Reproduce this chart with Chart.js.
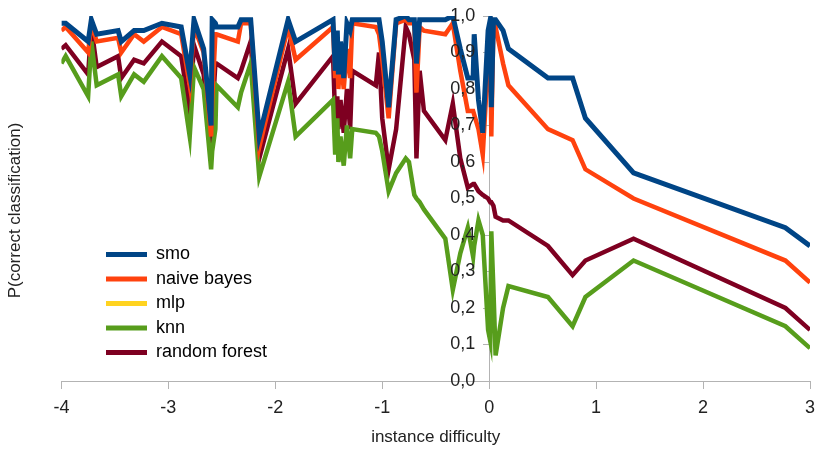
<!DOCTYPE html>
<html>
<head>
<meta charset="utf-8">
<script src="https://cdn.jsdelivr.net/npm/chart.js@4.4.1/dist/chart.umd.min.js"></script>
<style>
  body { margin: 0; background: #fff; }
  #wrap { width: 816px; height: 449px; }
</style>
</head>
<body>
<div id="wrap"><canvas id="difficulty-chart"></canvas></div>
<script>
// instance difficulty (x) and P(correct classification) per classifier
var difficulty = [-4.00, -3.96, -3.75, -3.72, -3.67, -3.47, -3.44, -3.32, -3.23, -3.06,
  -2.88, -2.80, -2.76, -2.67, -2.60, -2.59, -2.56, -2.55, -2.35, -2.32,
  -2.23, -2.15, -1.88, -1.81, -1.46, -1.44, -1.42, -1.41, -1.39, -1.36,
  -1.33, -1.30, -1.28, -1.06, -1.03, -1.00, -0.94, -0.87, -0.78, -0.75,
  -0.70, -0.68, -0.65, -0.61, -0.41, -0.34, -0.27, -0.20, -0.15, -0.14,
  -0.10, -0.06, -0.01, 0.01, 0.02, 0.04, 0.06, 0.13, 0.18, 0.55,
  0.78, 0.90, 1.35, 2.77, 3.00];

var smo = [0.98, 0.98, 0.93, 0.99, 0.95, 0.96, 0.93, 0.96, 0.96, 0.98,
  0.97, 0.84, 0.99, 0.91, 0.70, 0.99, 0.98, 0.97, 0.97, 0.99,
  0.99, 0.67, 0.99, 0.93, 0.99, 0.85, 0.96, 0.84, 0.93, 0.83,
  0.98, 0.96, 0.99, 0.99, 0.99, 0.93, 0.75, 0.99, 1.00, 0.99,
  0.99, 0.87, 0.99, 0.99, 0.99, 1.00, 0.91, 0.83, 0.83, 0.95,
  0.77, 0.68, 0.96, 0.99, 0.75, 0.99, 0.99, 0.96, 0.91, 0.83,
  0.83, 0.72, 0.57, 0.42, 0.37];

var naiveBayes = [0.96, 0.97, 0.90, 0.98, 0.93, 0.94, 0.90, 0.95, 0.93, 0.97,
  0.95, 0.81, 0.97, 0.90, 0.67, 0.77, 0.95, 0.95, 0.93, 0.98,
  0.98, 0.64, 0.97, 0.88, 0.97, 0.83, 0.88, 0.80, 0.89, 0.80,
  0.91, 0.83, 0.98, 0.97, 0.95, 0.88, 0.72, 0.98, 0.99, 0.98,
  0.98, 0.79, 0.97, 0.96, 0.95, 0.98, 0.85, 0.74, 0.74, 0.73,
  0.69, 0.62, 0.88, 0.96, 0.67, 0.98, 0.97, 0.87, 0.81, 0.69,
  0.66, 0.58, 0.50, 0.33, 0.27];

var mlp = []; // not visible in the picture

var knn = [0.87, 0.89, 0.78, 0.93, 0.81, 0.84, 0.78, 0.84, 0.82, 0.89,
  0.83, 0.67, 0.86, 0.80, 0.58, 0.63, 0.69, 0.81, 0.75, 0.79,
  0.87, 0.56, 0.82, 0.67, 0.77, 0.62, 0.72, 0.60, 0.67, 0.59,
  0.70, 0.61, 0.69, 0.68, 0.67, 0.63, 0.52, 0.57, 0.61, 0.60,
  0.51, 0.50, 0.49, 0.47, 0.39, 0.25, 0.35, 0.42, 0.34, 0.37,
  0.44, 0.40, 0.14, 0.11, 0.41, 0.25, 0.07, 0.20, 0.26, 0.23,
  0.15, 0.23, 0.33, 0.15, 0.09];

var randomForest = [0.91, 0.92, 0.84, 0.97, 0.86, 0.89, 0.83, 0.88, 0.87, 0.93,
  0.89, 0.74, 0.92, 0.84, 0.63, 0.72, 0.87, 0.87, 0.83, 0.85,
  0.93, 0.61, 0.91, 0.76, 0.89, 0.72, 0.78, 0.69, 0.77, 0.68,
  0.80, 0.69, 0.85, 0.81, 0.90, 0.72, 0.58, 0.69, 0.97, 0.95,
  0.88, 0.61, 0.85, 0.74, 0.66, 0.76, 0.61, 0.53, 0.54, 0.54,
  0.52, 0.51, 0.50, 0.49, 0.49, 0.48, 0.45, 0.44, 0.44, 0.37,
  0.29, 0.33, 0.39, 0.20, 0.14];

var seriesNames = ['smo', 'naive bayes', 'mlp', 'knn', 'random forest'];
var seriesValues = [smo, naiveBayes, mlp, knn, randomForest];
var seriesColors = ['#004586', '#ff420e', '#ffd320', '#579d1c', '#7e0021'];
var seriesWidths = [5, 4.5, 4.5, 4.5, 4.5];

function toPoints(values) {
    return values.map(function (v, i) { return {x: difficulty[i], y: v}; });
}

var datasets = seriesNames.map(function (name, k) {
    return {
        label: name,
        data: toPoints(seriesValues[k]),
        borderColor: seriesColors[k],
        backgroundColor: seriesColors[k],
        borderWidth: seriesWidths[k],
        pointRadius: 0,
        fill: false,
        tension: 0
    };
});

function commaLabel(v) { return v.toFixed(1).replace('.', ','); }

// legend inside the plot on the left, y title a bit lower
var placeBoxes = {
    id: 'placeBoxes',
    afterLayout: function (chart) {
        chart.legend.left = 99.5;
        chart.legend.top = 239;
        chart.legend.bottom = 449;
        var t = chart.scales.yTitle;
        t.top += 12;
        t.bottom += 12;
    }
};

var ctx = document.getElementById('difficulty-chart').getContext('2d');
var chart = new Chart(ctx, {
    type: 'line',
    data: { datasets: datasets },
    plugins: [placeBoxes],
    options: {
        responsive: true,
        maintainAspectRatio: false,
        animation: false,
        layout: { padding: { top: 16, right: 6, bottom: 1, left: 0 } },
        plugins: {
            tooltip: { enabled: false },
            legend: {
                position: 'chartArea',
                align: 'start',
                labels: {
                    boxWidth: 41,
                    boxHeight: 5,
                    padding: 6.5,
                    color: '#222',
                    font: { family: 'Liberation Sans', size: 18 },
                    generateLabels: function (chart) {
                        return chart.data.datasets.map(function (ds, i) {
                            return {
                                text: ds.label,
                                fillStyle: ds.borderColor,
                                strokeStyle: ds.borderColor,
                                lineWidth: 0,
                                datasetIndex: i
                            };
                        });
                    }
                }
            }
        },
        scales: {
            x: {
                type: 'linear',
                position: 'bottom',
                min: -4,
                max: 3,
                ticks: {
                    stepSize: 1,
                    padding: 8,
                    color: '#222',
                    font: { family: 'Liberation Sans', size: 18 }
                },
                grid: { drawOnChartArea: false, tickLength: 8, color: '#b3b3b3' },
                border: { color: '#b3b3b3' },
                title: {
                    display: true,
                    text: 'instance difficulty',
                    color: '#222',
                    font: { family: 'Liberation Sans', size: 17 },
                    padding: { top: 6, bottom: 0 }
                },
                afterFit: function (s) {
                    s.height = 67;
                    s.paddingLeft = 0;
                    s.paddingRight = 0;
                }
            },
            // axis line and tick marks at x = 0
            y: {
                type: 'linear',
                position: { x: 0 },
                min: 0,
                max: 1,
                ticks: { stepSize: 0.1, display: false },
                grid: { drawOnChartArea: false, tickLength: 6, color: '#b3b3b3' },
                border: { color: '#b3b3b3' },
                afterFit: function (s) {
                    s.paddingTop = 0;
                    s.paddingBottom = 0;
                }
            },
            // tick labels just left of the axis, drawn over the lines
            yLabels: {
                type: 'linear',
                position: { x: -0.13 },
                min: 0,
                max: 1,
                ticks: {
                    stepSize: 0.1,
                    z: 1,
                    color: '#222',
                    font: { family: 'Liberation Sans', size: 18 },
                    callback: commaLabel
                },
                grid: { display: false },
                border: { display: false },
                afterFit: function (s) {
                    s.paddingTop = 0;
                    s.paddingBottom = 0;
                }
            },
            yTitle: {
                type: 'linear',
                position: 'left',
                ticks: { display: false },
                grid: { display: false },
                border: { display: false },
                title: {
                    display: true,
                    text: 'P(correct classification)',
                    color: '#222',
                    font: { family: 'Liberation Sans', size: 17 },
                    padding: { top: 5, bottom: 28 }
                }
            }
        }
    }
});
</script>
</body>
</html>
